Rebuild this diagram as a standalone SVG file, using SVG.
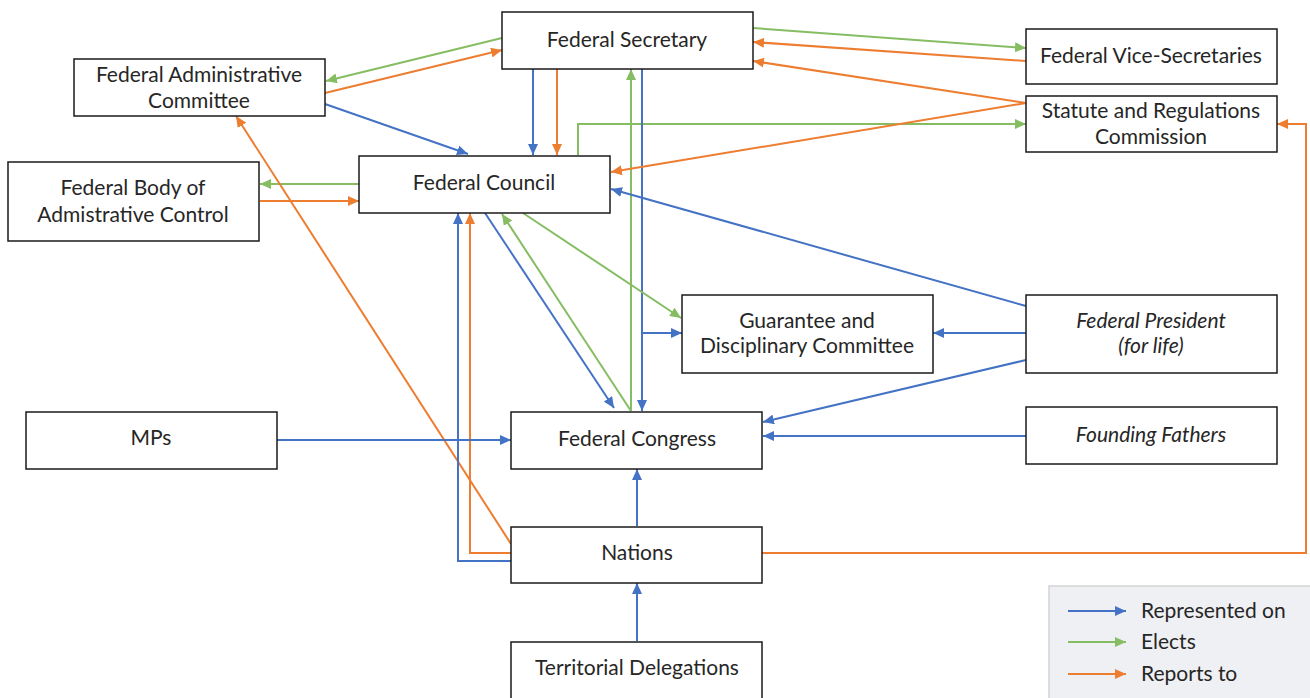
<svg xmlns="http://www.w3.org/2000/svg" width="1310" height="698" viewBox="0 0 1310 698">
<defs>
<marker id="ab" markerUnits="userSpaceOnUse" markerWidth="12" markerHeight="10" refX="11" refY="5" orient="auto"><path d="M0,0 L11,5 L0,10 z" fill="#4472C4"/></marker>
<marker id="ag" markerUnits="userSpaceOnUse" markerWidth="12" markerHeight="10" refX="11" refY="5" orient="auto"><path d="M0,0 L11,5 L0,10 z" fill="#86BD62"/></marker>
<marker id="ao" markerUnits="userSpaceOnUse" markerWidth="12" markerHeight="10" refX="11" refY="5" orient="auto"><path d="M0,0 L11,5 L0,10 z" fill="#ED7D31"/></marker>
</defs>
<style>
.box{fill:#fff;stroke:#1a1a1a;stroke-width:1.5}
.t{font-family:Lato,"Open Sans",sans-serif;font-size:21px;fill:#262626;text-anchor:middle}
.i{font-style:italic}
.b{fill:none;stroke:#4472C4;stroke-width:2;marker-end:url(#ab)}
.g{fill:none;stroke:#86BD62;stroke-width:2;marker-end:url(#ag)}
.o{fill:none;stroke:#ED7D31;stroke-width:2;marker-end:url(#ao)}
.lt{font-family:Lato,"Open Sans",sans-serif;font-size:21px;fill:#262626}
</style>
<rect width="1310" height="698" fill="#fff"/>
<g id="connectors">
<path class="g" d="M502,38 L326,81"/>
<path class="o" d="M325,93 L502,50"/>
<path class="b" d="M325,104 L468,154"/>
<path class="b" d="M533,69 L533,155"/>
<path class="o" d="M557,69 L557,155"/>
<path class="g" d="M578,155 L578,124 L1026,124"/>
<path class="g" d="M631,411 L631,69"/>
<path class="b" d="M642,69 L642,411"/>
<path class="b" d="M642,333 L682,333"/>
<path class="g" d="M753,28 L1026,48"/>
<path class="o" d="M1026,61 L753,42"/>
<path class="o" d="M1026,103 L753,61"/>
<path class="o" d="M1026,103 L611,172"/>
<path class="b" d="M1026,306 L611,189"/>
<path class="g" d="M359,184 L260,184"/>
<path class="o" d="M260,201 L359,201"/>
<path class="o" d="M511,544 L236,116"/>
<path class="b" d="M511,561 L458,561 L458,213"/>
<path class="o" d="M511,553 L470,553 L470,213"/>
<path class="b" d="M485,213 L614,408"/>
<path class="g" d="M631,411 L502,214"/>
<path class="g" d="M523,213 L681,318"/>
<path class="b" d="M1026,333 L933,333"/>
<path class="b" d="M1026,360 L763,422"/>
<path class="b" d="M1026,436 L763,436"/>
<path class="b" d="M277,440 L511,440"/>
<path class="b" d="M637,526 L637,469"/>
<path class="b" d="M637,641 L637,583"/>
<path class="o" d="M762,553 L1306,553 L1306,124 L1277,124"/>
</g>
<g id="federal-secretary"><rect class="box" x="502" y="12" width="251" height="57"/><text class="t" x="627" y="47">Federal Secretary</text></g>
<g id="federal-vice-secretaries"><rect class="box" x="1026" y="29" width="251" height="55"/><text class="t" x="1151" y="63">Federal Vice-Secretaries</text></g>
<g id="statute-commission"><rect class="box" x="1026" y="96" width="251" height="56"/><text class="t" x="1151" y="118">Statute and Regulations</text><text class="t" x="1151" y="144">Commission</text></g>
<g id="federal-administrative-committee"><rect class="box" x="74" y="59" width="251" height="57"/><text class="t" x="199" y="82">Federal Administrative</text><text class="t" x="199" y="108">Committee</text></g>
<g id="federal-body"><rect class="box" x="8" y="162" width="251" height="79"/><text class="t" x="133" y="195">Federal Body of</text><text class="t" x="133" y="222">Admistrative Control</text></g>
<g id="federal-council"><rect class="box" x="359" y="156" width="251" height="57"/><text class="t" x="484" y="190">Federal Council</text></g>
<g id="guarantee-committee"><rect class="box" x="682" y="295" width="251" height="78"/><text class="t" x="807" y="328">Guarantee and</text><text class="t" x="807" y="353">Disciplinary Committee</text></g>
<g id="federal-president"><rect class="box" x="1026" y="295" width="251" height="78"/><text class="t i" x="1151" y="328">Federal President</text><text class="t i" x="1151" y="353">(for life)</text></g>
<g id="mps"><rect class="box" x="26" y="412" width="251" height="57"/><text class="t" x="151" y="445">MPs</text></g>
<g id="federal-congress"><rect class="box" x="511" y="412" width="251" height="57"/><text class="t" x="637" y="446">Federal Congress</text></g>
<g id="founding-fathers"><rect class="box" x="1026" y="407" width="251" height="57"/><text class="t i" x="1151" y="442">Founding Fathers</text></g>
<g id="nations"><rect class="box" x="511" y="527" width="251" height="56"/><text class="t" x="637" y="560">Nations</text></g>
<g id="territorial-delegations"><rect class="box" x="511" y="642" width="251" height="70"/><text class="t" x="637" y="675">Territorial Delegations</text></g>
<g id="legend">
<rect x="1049" y="586" width="280" height="130" fill="#eff0f3" stroke="#d4d4d4" stroke-width="1.5"/>
<path class="b" d="M1068,611 L1126,611"/>
<path class="g" d="M1068,642 L1126,642"/>
<path class="o" d="M1068,674 L1126,674"/>
<text class="lt" x="1141" y="618">Represented on</text>
<text class="lt" x="1141" y="649">Elects</text>
<text class="lt" x="1141" y="681">Reports to</text>
</g>
</svg>
